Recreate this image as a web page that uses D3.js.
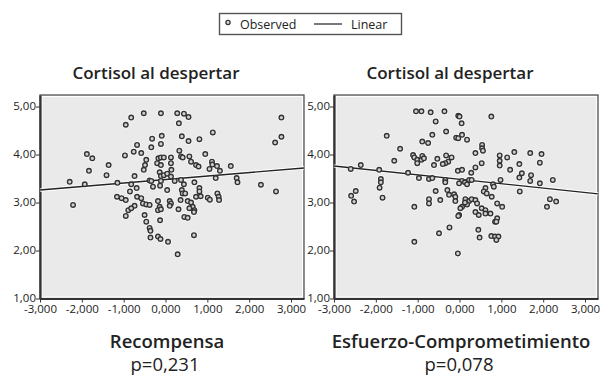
<!DOCTYPE html>
<html>
<head>
<meta charset="utf-8">
<script src="https://cdn.jsdelivr.net/npm/d3@7"></script>
<style>
  body { margin: 0; background: #fff; }
  svg { display: block; font-family: "Open Sans", sans-serif; }
</style>
</head>
<body>
<svg id="chart" width="600" height="376"></svg>
<script>
(function() {
    'use strict';

    // ---- data ----
    var xTicks = [-3, -2, -1, 0, 1, 2, 3];
    var yTicks = [1, 2, 3, 4, 5];
    var panelTitles = ["Cortisol al despertar", "Cortisol al despertar"];
    var xTitles = ["Recompensa", "Esfuerzo-Comprometimiento"];
    var pLabels = ["p=0,231", "p=0,078"];
    var legendLabels = ["Observed", "Linear"];

    var recompensaPts = [
        [-1.88, 4.01], [-1.75, 3.92], [-1.83, 3.66], [-1.36, 3.78], [-1.41, 3.57], [-0.97, 3.98],
        [-2.29, 3.43], [-1.93, 3.38], [-1.15, 3.41], [-2.21, 2.95], [-1.16, 3.12], [-1.05, 3.09],
        [-0.95, 3.05], [-0.89, 2.84], [-0.95, 2.72], [-0.95, 4.62], [-0.82, 4.77], [-0.52, 4.86],
        [-0.11, 4.86], [0.28, 4.86], [0.44, 4.85], [0.55, 4.78], [0.32, 4.65], [-0.32, 4.33],
        [-0.09, 4.39], [0.39, 4.38], [0.55, 4.28], [0.81, 4.32], [1.13, 4.46], [-0.68, 4.20],
        [-0.34, 4.15], [-0.11, 4.22], [0.33, 4.08], [0.95, 4.01], [-0.76, 4.06], [-0.58, 4.03],
        [-0.46, 3.89], [-0.49, 3.78], [-0.52, 3.68], [-0.17, 3.92], [-0.11, 3.94], [-0.04, 3.94],
        [0.13, 3.94], [-0.20, 3.82], [-0.11, 3.78], [0.13, 3.82], [0.37, 3.96], [0.41, 3.94],
        [0.57, 3.96], [0.61, 3.85], [0.73, 3.78], [0.79, 3.75], [1.05, 3.70], [1.11, 3.85],
        [-0.74, 3.55], [-0.14, 3.63], [-0.11, 3.55], [-0.04, 3.57], [0.04, 3.60], [0.13, 3.54],
        [-0.11, 3.45], [-0.38, 3.46], [-0.34, 3.45], [0.22, 3.45], [0.37, 3.47], [0.44, 3.38],
        [0.69, 3.42], [0.81, 3.30], [0.81, 3.23], [1.01, 3.10], [0.73, 3.12], [-0.30, 3.33],
        [-0.13, 3.35], [0.04, 3.26], [-0.54, 2.98], [-0.46, 2.96], [-0.38, 2.95], [-0.18, 3.03],
        [-0.14, 2.91], [-0.18, 2.84], [-0.11, 2.86], [0.10, 3.03], [0.13, 2.98], [0.10, 2.93],
        [0.39, 3.26], [0.41, 3.19], [0.47, 3.19], [0.36, 3.05], [0.31, 2.86], [0.53, 3.03],
        [0.61, 3.00], [0.65, 2.91], [0.69, 2.84], [0.68, 2.80], [0.57, 2.88], [0.45, 2.70],
        [0.53, 2.68], [-0.50, 2.74], [-0.46, 2.60], [-0.38, 2.47], [-0.36, 2.41], [-0.36, 2.27],
        [-0.18, 2.29], [-0.12, 2.24], [0.06, 2.18], [-0.13, 2.63], [0.68, 2.32], [0.29, 1.92],
        [-0.82, 3.38], [-0.68, 3.12], [-0.58, 3.09], [-0.74, 2.93], [-0.82, 2.88], [-0.69, 3.30],
        [0.14, 3.68], [1.12, 3.79], [1.23, 3.76], [1.30, 3.66], [1.20, 3.51], [0.84, 3.13],
        [1.06, 3.06], [1.24, 3.19], [1.27, 3.12], [1.28, 3.05], [2.77, 4.77], [2.77, 4.37],
        [2.62, 4.25], [1.56, 3.76], [1.70, 3.51], [1.72, 3.42], [2.28, 3.37], [2.64, 3.23],
        [-0.85, 3.23]
    ];

    var esfuerzoPts = [
        [-2.60, 3.70], [-2.36, 3.78], [-2.48, 3.24], [-2.59, 3.14], [-2.52, 3.02], [-1.92, 3.68],
        [-1.88, 3.49], [-1.88, 3.42], [-1.91, 3.31], [-1.84, 3.10], [-1.74, 4.39], [-1.42, 4.12],
        [-1.56, 3.87], [-1.23, 3.62], [-1.08, 2.91], [-1.08, 2.18], [-1.04, 4.90], [-0.91, 4.90],
        [-0.97, 3.51], [-0.89, 4.27], [-1.11, 3.99], [-1.08, 3.94], [-1.01, 3.89], [-1.01, 3.82],
        [-0.91, 3.89], [-0.89, 3.97], [-0.73, 3.49], [-0.65, 3.51], [-0.69, 4.88], [-0.36, 4.90],
        [-0.03, 4.81], [0.00, 4.79], [-0.57, 4.69], [0.05, 4.65], [0.76, 4.79], [-0.32, 4.48],
        [-0.65, 4.41], [-0.08, 4.35], [-0.03, 4.34], [0.06, 4.41], [0.18, 4.31], [-0.75, 4.24],
        [0.54, 4.20], [0.54, 4.13], [0.56, 4.08], [0.38, 4.03], [-0.85, 3.92], [-0.53, 3.91],
        [-0.61, 3.78], [-0.32, 3.98], [-0.19, 3.94], [-0.27, 3.85], [-0.34, 3.82], [-0.40, 3.80],
        [0.96, 3.98], [1.14, 3.94], [0.96, 3.87], [0.96, 3.77], [0.53, 3.82], [0.38, 3.73],
        [-0.04, 3.66], [0.06, 3.68], [0.28, 3.62], [1.21, 3.68], [-0.34, 3.47], [-0.34, 3.42],
        [0.06, 3.45], [-0.01, 3.40], [0.13, 3.42], [0.23, 3.47], [0.18, 3.38], [0.29, 3.47],
        [0.80, 3.38], [0.82, 3.33], [0.98, 3.47], [0.62, 3.30], [0.58, 3.23], [0.65, 3.19],
        [-0.57, 3.24], [-0.29, 3.26], [-0.25, 3.16], [-0.13, 3.17], [-0.10, 3.12], [-0.73, 3.07],
        [-0.73, 2.98], [-0.46, 3.05], [-0.10, 3.03], [0.77, 3.12], [0.14, 3.07], [0.23, 3.03],
        [0.29, 3.07], [0.38, 3.05], [0.18, 2.96], [0.13, 3.00], [0.06, 2.91], [0.42, 2.98],
        [0.53, 2.88], [0.62, 2.84], [0.62, 2.77], [0.90, 2.98], [1.02, 2.91], [0.02, 2.88],
        [-0.01, 2.74], [-0.03, 2.72], [0.38, 2.80], [0.46, 2.74], [0.74, 2.77], [0.90, 2.67],
        [0.85, 2.60], [0.88, 2.60], [-0.49, 2.36], [-0.24, 2.48], [0.45, 2.43], [0.48, 2.27],
        [0.76, 2.30], [0.85, 2.29], [0.93, 2.29], [0.88, 2.22], [-0.04, 1.94], [1.31, 4.05],
        [1.69, 4.03], [1.96, 4.01], [1.92, 3.83], [1.43, 3.80], [1.49, 3.61], [1.43, 3.52],
        [1.71, 3.57], [1.69, 3.45], [1.92, 3.40], [2.23, 3.47], [1.44, 3.23], [2.16, 3.07],
        [2.31, 3.02], [2.09, 2.91]
    ];

    // fitted lines as drawn: value at the left and right end of the x range
    var recompensaFit = [[-3, 3.26], [3.31, 3.72]];
    var esfuerzoFit = [[-3, 3.76], [3.31, 3.18]];

    var panels = [
        { pts: recompensaPts, fit: recompensaFit, left: 40 },
        { pts: esfuerzoPts, fit: esfuerzoFit, left: 334 }
    ];

    var plotW = 264, top = 95, bottom = 298.5;

    var loc = d3.formatLocale({ decimal: ",", thousands: ".", grouping: [3], currency: ["", ""], minus: "-" });
    var fmtX = loc.format(".3f");
    var fmtY = loc.format(".2f");

    var svg = d3.select("#chart");

    // legend
    var lg = svg.append("g");
    lg.append("rect").attr("x", 219.5).attr("y", 13.5).attr("width", 182).attr("height", 21)
        .attr("fill", "#fff").attr("stroke", "#555").attr("stroke-width", 1.4);
    lg.append("circle").attr("cx", 228).attr("cy", 22.5).attr("r", 2.1)
        .attr("fill", "#ddd").attr("stroke", "#333").attr("stroke-width", 1.3);
    lg.append("text").attr("x", 240).attr("y", 28.5).attr("font-size", 12.5).attr("fill", "#222").text(legendLabels[0]);
    lg.append("line").attr("x1", 314).attr("x2", 342).attr("y1", 24).attr("y2", 24)
        .attr("stroke", "#222").attr("stroke-width", 1.2);
    lg.append("text").attr("x", 351).attr("y", 28.5).attr("font-size", 12.5).attr("fill", "#222").text(legendLabels[1]);

    panels.forEach(function(p, i) {
        var x = d3.scaleLinear().domain([-3, 3.31]).range([p.left, p.left + plotW]);
        var y = d3.scaleLinear().domain([1, 5.24]).range([bottom, top]);
        var g = svg.append("g");

        // plot background + frame
        g.append("rect").attr("x", p.left).attr("y", top).attr("width", plotW).attr("height", bottom - top)
            .attr("fill", "#eaeaea").attr("stroke", "#444").attr("stroke-width", 1.2);
        g.append("rect").attr("x", p.left + 2).attr("y", top + 1.5).attr("width", plotW - 3.5).attr("height", bottom - top - 3)
            .attr("fill", "none").attr("stroke", "#fff").attr("stroke-width", 1);

        // axes
        var ax = g.append("g").attr("transform", "translate(0," + bottom + ")")
            .call(d3.axisBottom(x).tickValues(xTicks).tickSize(4).tickSizeOuter(0).tickFormat(fmtX));
        var ay = g.append("g").attr("transform", "translate(" + p.left + ",0)")
            .call(d3.axisLeft(y).tickValues(yTicks).tickSize(4).tickSizeOuter(0).tickFormat(fmtY));
        [ax, ay].forEach(function(a) {
            a.select(".domain").attr("stroke", "#333").attr("stroke-width", 2.2);
            a.selectAll(".tick line").attr("stroke", "#333").attr("stroke-width", 1);
            a.selectAll(".tick text").attr("font-family", "'Open Sans', sans-serif").attr("font-size", 11.5).attr("fill", "#222");
        });
        ax.selectAll(".tick text").attr("dy", 0).attr("y", 14);
        ay.selectAll(".tick text").attr("x", -4).attr("dy", "0.3em");

        // points: white halo under everything
        g.append("g").selectAll("circle").data(p.pts).enter().append("circle")
            .attr("cx", function(d) { return x(d[0]); }).attr("cy", function(d) { return y(d[1]); })
            .attr("r", 3.7).attr("fill", "#fff").attr("opacity", 0.85);

        // fit line with light edge
        var line = d3.line().x(function(d) { return x(d[0]); }).y(function(d) { return y(d[1]); });
        g.append("path").datum(p.fit).attr("d", line).attr("stroke", "#fff").attr("stroke-width", 3.2).attr("fill", "none");
        g.append("path").datum(p.fit).attr("d", line).attr("stroke", "#222").attr("stroke-width", 1.4).attr("fill", "none");

        g.append("g").selectAll("circle").data(p.pts).enter().append("circle")
            .attr("cx", function(d) { return x(d[0]); }).attr("cy", function(d) { return y(d[1]); })
            .attr("r", 2.3).attr("fill", "#d0d0d0").attr("stroke", "#333").attr("stroke-width", 1.4);

        // texts
        g.append("text").attr("x", p.left + 116).attr("y", 79).attr("text-anchor", "middle")
            .attr("font-size", 17).attr("font-weight", 600).attr("fill", "#222").text(panelTitles[i]);
        g.append("text").attr("x", p.left + 127).attr("y", 347.5).attr("text-anchor", "middle")
            .attr("font-size", 18.5).attr("font-weight", 600).attr("fill", "#222").text(xTitles[i]);
        g.append("text").attr("x", p.left + 125).attr("y", 371).attr("text-anchor", "middle")
            .attr("font-size", 18.5).attr("fill", "#222").text(pLabels[i]);
    });
})();
</script>
</body>
</html>
